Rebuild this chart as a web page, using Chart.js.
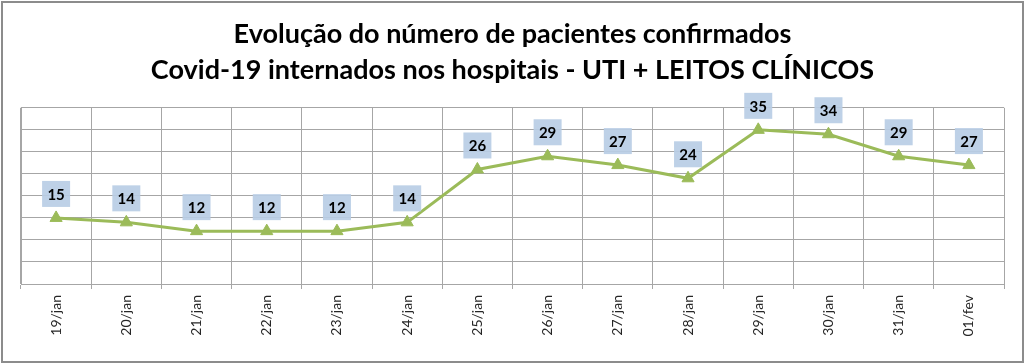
<!DOCTYPE html>
<html>
<head>
<meta charset="utf-8">
<script src="https://cdn.jsdelivr.net/npm/chart.js@4.4.1/dist/chart.umd.min.js"></script>
<style>
  html, body { margin: 0; padding: 0; background: #fff; }
  #wrap { width: 1024px; height: 364px; position: relative; }
</style>
</head>
<body>
<div id="wrap"><canvas id="grafico"></canvas></div>
<script>
// dados do gráfico
const dias = ['19/jan', '20/jan', '21/jan', '22/jan', '23/jan', '24/jan', '25/jan',
              '26/jan', '27/jan', '28/jan', '29/jan', '30/jan', '31/jan', '01/fev'];
const internados = [15, 14, 12, 12, 12, 14, 26, 29, 27, 24, 35, 34, 29, 27];
const titulo = ['Evolução do número de pacientes confirmados',
                'Covid-19 internados nos hospitais - UTI + LEITOS CLÍNICOS'];

const fonte = 'Lato, "Open Sans", sans-serif';

// moldura em volta do gráfico
const moldura = {
    id: 'moldura',
    beforeDraw(chart) {
        const ctx = chart.ctx;
        ctx.save();
        ctx.fillStyle = '#fff';
        ctx.fillRect(0, 0, chart.width, chart.height);
        ctx.strokeStyle = '#8c8c8c';
        ctx.lineWidth = 2;
        ctx.strokeRect(2, 2, chart.width - 3, chart.height - 4);
        ctx.restore();
    }
};

// rótulos com fundo azul acima de cada ponto
const rotulos = {
    id: 'rotulos',
    afterDatasetsDraw(chart) {
        const ctx = chart.ctx;
        const meta = chart.getDatasetMeta(0);
        ctx.save();
        ctx.font = 'bold 15px ' + fonte;
        ctx.textAlign = 'center';
        ctx.textBaseline = 'middle';
        meta.data.forEach((pt, i) => {
            const cy = pt.y - 24;
            ctx.fillStyle = 'rgba(185, 205, 229, 0.92)';
            ctx.fillRect(pt.x - 14, cy - 13, 28, 26);
            ctx.fillStyle = '#000';
            ctx.fillText(String(internados[i]), pt.x, cy + 1);
        });
        ctx.restore();
    }
};

const ctx = document.getElementById('grafico').getContext('2d');
new Chart(ctx, {
    type: 'line',
    data: {
        labels: dias,
        datasets: [{
            data: internados,
            borderColor: '#9bbb59',
            backgroundColor: '#9bbb59',
            borderWidth: 3,
            pointStyle: 'triangle',
            pointRadius: 7,
            pointBorderWidth: 1,
            tension: 0
        }]
    },
    options: {
        responsive: true,
        maintainAspectRatio: false,
        animation: false,
        layout: { padding: { left: 21, right: 20, top: 0, bottom: 0 } },
        plugins: {
            legend: { display: false },
            tooltip: { enabled: false },
            title: {
                display: true,
                text: titulo,
                color: '#000',
                font: { family: fonte, size: 27, weight: 'bold', lineHeight: 1.33 },
                padding: { top: 16, bottom: 20 }
            }
        },
        scales: {
            x: {
                offset: true,
                grid: { offset: true, color: '#a6a6a6', tickLength: 5, tickColor: '#a6a6a6' },
                border: { color: '#a6a6a6' },
                ticks: {
                    minRotation: 90, maxRotation: 90, padding: 6,
                    color: '#262626', font: { family: fonte, size: 14 }
                },
                afterFit(scale) { scale.height = 80; }
            },
            y: {
                min: 0, max: 40,
                ticks: { display: false, stepSize: 5 },
                grid: { color: '#a6a6a6', drawTicks: false },
                border: { color: '#a6a6a6' },
                afterFit(scale) { scale.width = 0; }
            }
        }
    },
    plugins: [moldura, rotulos]
});
</script>
</body>
</html>
